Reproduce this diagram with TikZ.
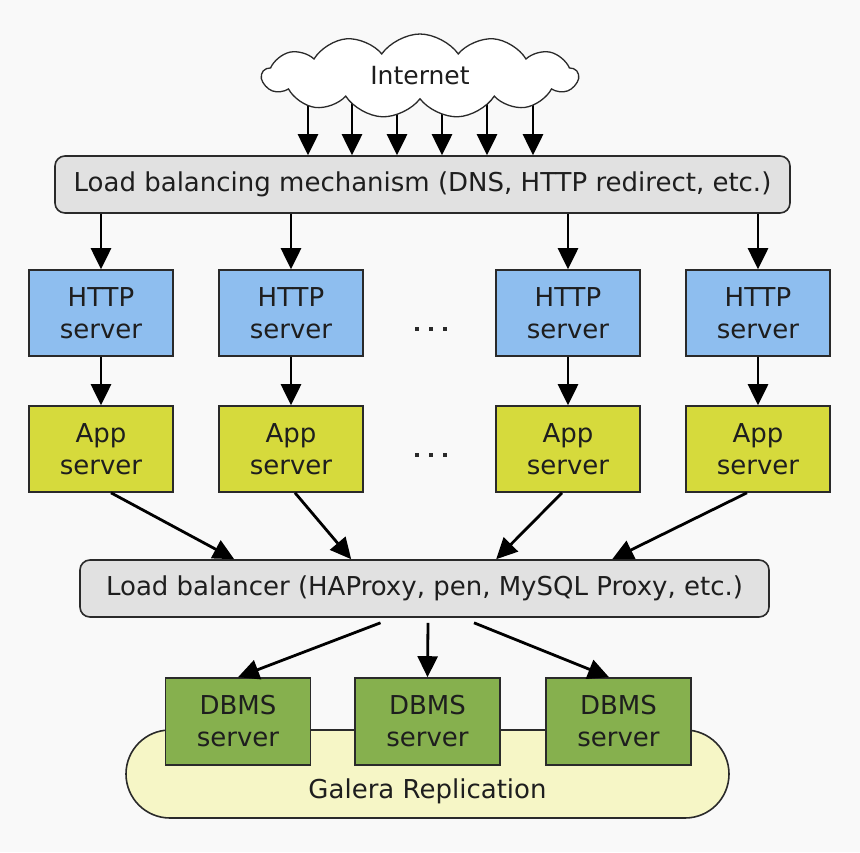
\documentclass[tikz,border=0pt]{standalone}
\usepackage{fontspec}
\setmainfont{DejaVu Sans}
\usetikzlibrary{shapes.symbols,arrows.meta,calc,backgrounds}
\definecolor{bgc}{HTML}{F9F9F9}
\definecolor{httpc}{HTML}{8EBEEF}
\definecolor{appc}{HTML}{D6DA3C}
\definecolor{dbc}{HTML}{86B04E}
\definecolor{lbc}{HTML}{E1E1E1}
\definecolor{galc}{HTML}{F6F6C6}
\definecolor{edgec}{HTML}{2A2A2A}
\definecolor{txtc}{HTML}{1E1E1E}
\tikzset{
  box/.style={draw=edgec, line width=1.6pt, minimum width=144pt, minimum height=86pt,
    inner sep=0pt, align=center, text=txtc, font=\fontsize{26}{32}\selectfont},
  httpbox/.style={box, fill=httpc},
  appbox/.style={box, fill=appc},
  dbbox/.style={box, fill=dbc, minimum width=145pt, minimum height=87pt},
  wide/.style={draw=edgec, line width=1.6pt, fill=lbc, rounded corners=10pt,
    minimum height=57pt, inner sep=0pt, text=txtc, font=\fontsize{26}{30}\selectfont},
  arr/.style={line width=2.8pt, draw=black,
    -{Triangle[width=20pt,length=21pt]}},
  dotsq/.style={fill=edgec, minimum size=4pt, inner sep=0pt},
}
\begin{document}
\begin{tikzpicture}[x=1pt,y=-1pt]
\useasboundingbox (0,0) rectangle (860,852);

% cloud
\node[cloud, draw=edgec, line width=1.3pt, fill=white, cloud puffs=13, cloud puff arc=110,
  aspect=3.9, minimum width=316pt, minimum height=84pt, inner sep=0pt,
  text=txtc, font=\fontsize{25}{28}\selectfont] (cloud) at (420,76) {Internet};

% load balancing mechanism
\node[wide, minimum width=735pt] (lbm) at (422.5,184.5) {Load balancing mechanism (DNS, HTTP redirect, etc.)};

% HTTP servers
\node[httpbox] (h1) at (101,313) {HTTP\\server};
\node[httpbox] (h2) at (291,313) {HTTP\\server};
\node[httpbox] (h3) at (568,313) {HTTP\\server};
\node[httpbox] (h4) at (758,313) {HTTP\\server};

% App servers
\node[appbox] (a1) at (101,449) {App\\server};
\node[appbox] (a2) at (291,449) {App\\server};
\node[appbox] (a3) at (568,449) {App\\server};
\node[appbox] (a4) at (758,449) {App\\server};

% dots
\node[dotsq] (d1) at (417,329) {};
\node[dotsq] (d2) at (431,329) {};
\node[dotsq] (d3) at (445,329) {};
\node[dotsq] (d4) at (417,455) {};
\node[dotsq] (d5) at (431,455) {};
\node[dotsq] (d6) at (445,455) {};

% load balancer
\node[wide, minimum width=689pt] (lb) at (424.5,588.5) {Load balancer (HAProxy, pen, MySQL Proxy, etc.)};

% galera
\node[draw=edgec, line width=1.6pt, fill=galc, minimum width=603pt, minimum height=88pt,
  rounded corners=44pt, inner sep=0pt] (gal) at (427.5,774) {};
\node[text=txtc, font=\fontsize{26}{30}\selectfont, inner sep=0pt] (galtxt) at (427.5,791) {Galera Replication};

% DBMS servers
\node[dbbox] (db1) at (238,721.5) {DBMS\\server};
\node[dbbox] (db2) at (427.5,721.5) {DBMS\\server};
\node[dbbox] (db3) at (618.5,721.5) {DBMS\\server};

% background and arrows from cloud (behind the cloud)
\begin{scope}[on background layer]
\fill[bgc] (0,0) rectangle (860,852);
\foreach \xx in {308,352,397,442,487,533}{
  \coordinate (cs) at (\xx,76);
  \draw[arr] (cs) -- (cs |- lbm.north);
}
\end{scope}

% lbm -> http
\foreach \i in {1,2,3,4}
  \draw[arr] (h\i.north |- lbm.south) -- (h\i.north);
% http -> app
\foreach \i in {1,2,3,4}
  \draw[arr] (h\i.south) -- (a\i.north);

% app -> lb
\draw[arr] ($(a1.south)+(10,0)$) -- ($(lb.north west)+(155,0)$);
\draw[arr] ($(a2.south)+(4,0)$) -- ($(lb.north west)+(272,0)$);
\draw[arr] ($(a3.south)+(-6,0)$) -- ($(lb.north west)+(417,0)$);
\draw[arr] ($(a4.south)+(-11,0)$) -- ($(lb.north west)+(533,0)$);

% lb -> db
\draw[arr] ($(lb.south)+(-44,5)$) -- (db1.north);
\draw[arr] ($(lb.south)+(3.5,5)$) -- (db2.north);
\draw[arr] ($(lb.south)+(49.5,5)$) -- ($(db3.north)+(-9.5,0)$);
\end{tikzpicture}
\end{document}
